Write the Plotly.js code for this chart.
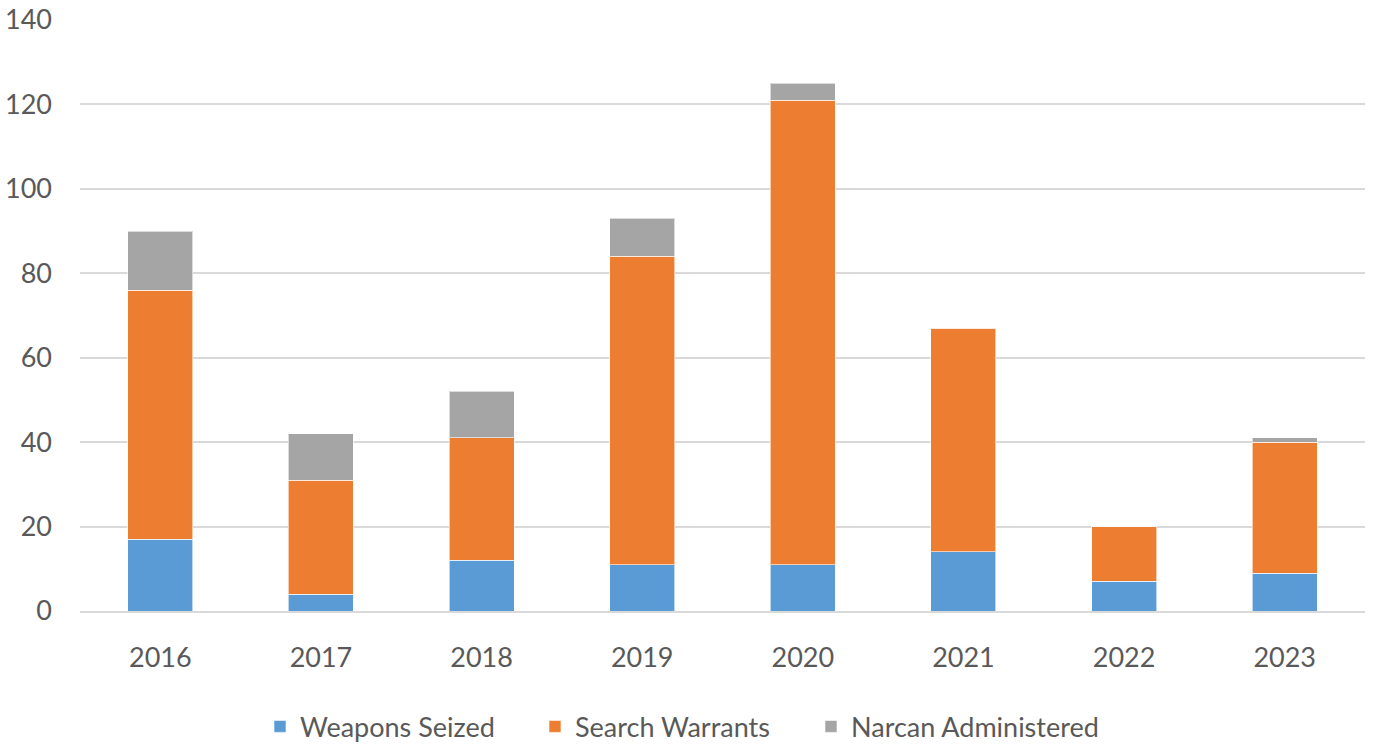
<!DOCTYPE html>
<html>
<head>
<meta charset="utf-8">
<script src="https://cdn.plot.ly/plotly-3.0.1.min.js"></script>
<style>html,body{margin:0;padding:0;background:#fff;}#chart{width:1375px;height:748px;}</style>
</head>
<body>
<div id="chart"></div>
<script>
const years = ["2016","2017","2018","2019","2020","2021","2022","2023"];
const weaponsSeized = [17, 4, 12, 11, 11, 14, 7, 9];
const searchWarrants = [59, 27, 29, 73, 110, 53, 13, 31];
const narcanAdministered = [14, 11, 11, 9, 4, 0, 0, 1];
const yTicks = [0, 20, 40, 60, 80, 100, 120, 140];

const font = "Lato, 'Open Sans', sans-serif";
const line = {color: "rgba(255,255,255,0.6)", width: 1};
const traces = [
  {type: "bar", name: "Weapons Seized", x: years, y: weaponsSeized, marker: {color: "#5b9bd5", line: line}, legend: "legend"},
  {type: "bar", name: "Search Warrants", x: years, y: searchWarrants, marker: {color: "#ed7d31", line: line}, legend: "legend2"},
  {type: "bar", name: "Narcan Administered", x: years, y: narcanAdministered, marker: {color: "#a5a5a5", line: line}, legend: "legend3"}
];
const plotL = 80, plotW = 1285;
function leg(px) {
  return {orientation: "h", x: (px - plotL) / plotW, xanchor: "left", y: -0.196, yanchor: "middle",
          font: {size: 27, color: "#595959"}, bgcolor: "rgba(0,0,0,0)"};
}
const layout = {
  width: 1375, height: 748,
  barmode: "stack",
  bargap: 0.595,
  paper_bgcolor: "#fff", plot_bgcolor: "#fff",
  margin: {l: 80, r: 10, t: 20, b: 137, autoexpand: false},
  font: {family: font, size: 27, color: "#595959"},
  showlegend: true,
  hovermode: false,
  xaxis: {type: "category", showgrid: false, zeroline: false, showline: true, linecolor: "#d9d9d9", linewidth: 2, ticks: "", ticklabelstandoff: 22, tickfont: {size: 27, color: "#595959"}},
  yaxis: {range: [0, 140], tickvals: yTicks, ticktext: yTicks.map(String), showgrid: true, gridcolor: "#d9d9d9", gridwidth: 2, zeroline: false, showline: false, ticks: "", ticklabelstandoff: 27, tickfont: {size: 27, color: "#595959"}},
  legend: leg(260),
  legend2: leg(535),
  legend3: leg(811)
};
Plotly.newPlot("chart", traces, layout, {displayModeBar: false, staticPlot: true});
</script>
</body>
</html>
